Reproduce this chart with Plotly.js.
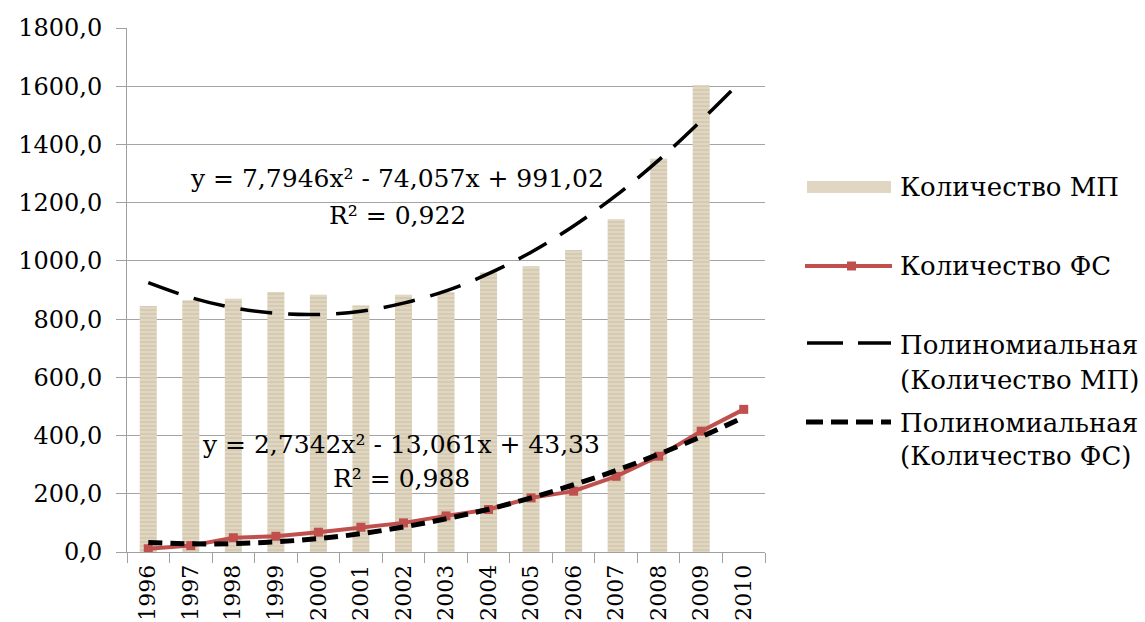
<!DOCTYPE html>
<html>
<head>
<meta charset="utf-8">
<script src="https://cdn.plot.ly/plotly-3.0.1.min.js"></script>
<style>html,body{margin:0;padding:0;background:#fff;}#chart{width:1145px;height:622px;}</style>
</head>
<body>
<div id="chart"></div>
<script>
// ---- data ----
var years = [1996, 1997, 1998, 1999, 2000, 2001, 2002, 2003, 2004, 2005, 2006, 2007, 2008, 2009, 2010];
var yearLabels = ["1996","1997","1998","1999","2000","2001","2002","2003","2004","2005","2006","2007","2008","2009","2010"];
var mpYears = [1996, 1997, 1998, 1999, 2000, 2001, 2002, 2003, 2004, 2005, 2006, 2007, 2008, 2009];
var mpValues = [845, 865, 870, 893, 884, 847, 884, 893, 960, 982, 1037, 1143, 1351, 1603];
var fsValues = [11, 22, 49, 54, 68, 85, 100, 124, 146, 186, 209, 260, 329, 415, 490];
var mpTrendX = [1996, 1997, 1998, 1999, 2000, 2001, 2002, 2003, 2004, 2005, 2006, 2007, 2008, 2009, 2009.75];
var mpTrendY = [925, 874, 839, 820, 816, 827, 855, 897, 956, 1030, 1120, 1225, 1346, 1482, 1590];
var fsTrendY = [33, 28, 29, 35, 46, 63, 86, 114, 147, 186, 231, 280, 336, 396, 463];
var seriesNames = ["Количество МП", "Количество ФС", "Полиномиальная", "(Количество МП)", "(Количество ФС)"];
var eqMP = ["y = 7,7946x² - 74,057x + 991,02", "R² = 0,922"];
var eqFS = ["y = 2,7342x² - 13,061x + 43,33", "R² = 0,988"];

var barColor = '#e0d6c1';
var red = '#c0504d';
var serif = 'DejaVu Serif, Liberation Serif, serif';

var boundaries = [];
for (var i = 0; i <= years.length; i++) boundaries.push(years[0] - 0.5 + i);

var traces = [
  {type: 'bar', x: mpYears, y: mpValues, name: seriesNames[0], width: 0.4,
   marker: {color: barColor, line: {width: 0},
            pattern: {shape: '-', fgcolor: '#cbbea3', bgcolor: barColor, size: 4, solidity: 0.25}},
   showlegend: false, hoverinfo: 'x+y'},
  {type: 'scatter', mode: 'lines', x: mpTrendX, y: mpTrendY, name: 'Полиномиальная (Количество МП)',
   line: {color: '#000', width: 3.5, dash: '32px,16px', shape: 'spline'}, showlegend: false},
  {type: 'scatter', mode: 'lines+markers', x: years, y: fsValues, name: seriesNames[1],
   line: {color: red, width: 4}, marker: {symbol: 'square', size: 9, color: red}, showlegend: false},
  {type: 'scatter', mode: 'lines', x: years, y: fsTrendY, name: 'Полиномиальная (Количество ФС)',
   line: {color: '#000', width: 5, dash: '14px,8px', shape: 'spline'}, showlegend: false}
];

// helpers for the hand-made legend (pixel -> paper)
var L = 127, R = 765, T = 28, B = 552;
function px(x) { return (x - L) / (R - L); }
function py(y) { return (B - y) / (B - T); }

var shapes = [
  {type: 'rect', xref: 'paper', yref: 'paper', x0: px(807), x1: px(891), y0: py(193), y1: py(181),
   fillcolor: barColor, line: {width: 0}},
  {type: 'line', xref: 'paper', yref: 'paper', x0: px(805), x1: px(892), y0: py(266), y1: py(266),
   line: {color: red, width: 4}},
  {type: 'rect', xref: 'paper', yref: 'paper', x0: px(847), x1: px(856), y0: py(270.5), y1: py(261.5),
   fillcolor: red, line: {width: 0}},
  {type: 'line', xref: 'paper', yref: 'paper', x0: px(807), x1: px(891), y0: py(343), y1: py(343),
   line: {color: '#000', width: 3.5, dash: '36px,15px'}},
  {type: 'line', xref: 'paper', yref: 'paper', x0: px(806), x1: px(891), y0: py(422), y1: py(422),
   line: {color: '#000', width: 5, dash: '17px,8px'}}
];

var legFont = {family: serif, size: 26, color: '#000'};
function legText(t, y) {
  return {xref: 'paper', yref: 'paper', x: px(898), y: py(y), xanchor: 'left', yanchor: 'middle',
          text: t, showarrow: false, font: legFont};
}
var eqFont = {family: serif, size: 25, color: '#000'};
function eqText(t, x, y) {
  return {xref: 'x', yref: 'y', x: x, y: y, xanchor: 'center', yanchor: 'middle',
          text: t, showarrow: false, font: eqFont};
}

var annotations = [
  legText(seriesNames[0], 187),
  legText(seriesNames[1], 266),
  legText(seriesNames[2], 345),
  legText(seriesNames[3], 380),
  legText(seriesNames[2], 423),
  legText(seriesNames[4], 456),
  eqText(eqMP[0], 2001.85, 1283),
  eqText(eqMP[1], 2001.85, 1157),
  eqText(eqFS[0], 2001.95, 368),
  eqText(eqFS[1], 2001.95, 254)
];

var layout = {
  width: 1145, height: 622,
  margin: {l: L, r: 1145 - R, t: T, b: 622 - B, pad: 0},
  paper_bgcolor: '#fff', plot_bgcolor: '#fff',
  separators: ', ',
  showlegend: false,
  font: {family: serif, color: '#000'},
  xaxis: {
    type: 'linear', range: [years[0] - 0.5, years[years.length - 1] + 0.5],
    tickmode: 'array', tickvals: years, ticktext: yearLabels, tickangle: -90,
    ticks: '', showgrid: false, zeroline: false,
    showline: true, linecolor: '#a0a0a0', linewidth: 1,
    tickfont: {family: serif, size: 22, color: '#000'},
    ticklabelstandoff: 3,
    minor: {tickmode: 'array', tickvals: boundaries, ticks: 'outside', ticklen: 10,
            tickcolor: '#a0a0a0', tickwidth: 1, showgrid: false}
  },
  yaxis: {
    range: [0, 1800], tickmode: 'linear', tick0: 0, dtick: 200, tickformat: '.1f',
    ticks: 'outside', ticklen: 10, tickcolor: '#a0a0a0',
    showgrid: true, gridcolor: '#a4a4a4', gridwidth: 1, zeroline: false,
    showline: true, linecolor: '#a0a0a0', linewidth: 1,
    tickfont: {family: serif, size: 24, color: '#000'},
    ticklabelstandoff: 9
  },
  bargap: 0.6,
  shapes: shapes,
  annotations: annotations
};

Plotly.newPlot('chart', traces, layout, {displayModeBar: false, staticPlot: true});
</script>
</body>
</html>
